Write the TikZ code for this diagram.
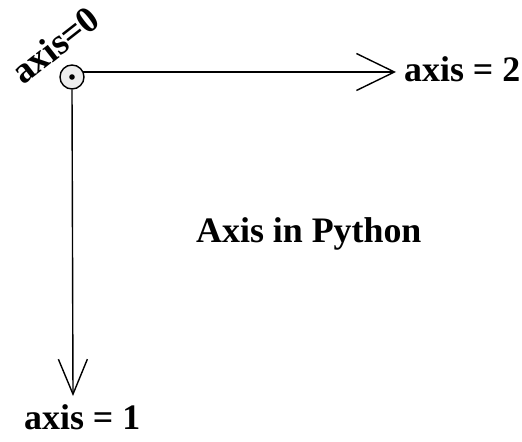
\documentclass[tikz,border=0pt]{standalone}
\usepackage{fontspec}
\setmainfont{Liberation Serif}
\usetikzlibrary{arrows.meta}
\begin{document}
\begin{tikzpicture}[x=1bp,y=-1bp,
  axisline/.style={line width=1.4bp},
  lbl/.style={inner sep=0pt,font=\fontsize{36}{40}\selectfont\bfseries},
  hhead/.style={-{Straight Barb[length=38bp,width=37bp,line width=1.4bp]}},
  vhead/.style={-{Straight Barb[length=35bp,width=29bp,line width=1.4bp]}}]
\useasboundingbox (0,0) rectangle (522,442);
\node[circle,draw,line width=1.4bp,fill=black!7,minimum size=24bp,inner sep=0pt] (o) at (72,77) {};
\fill (o.center) circle (2.8bp);
\coordinate (e2) at (396,72);
\coordinate (e1) at (73,396);
\coordinate (s2) at (83,72);
\draw[axisline,hhead] (s2) -- (e2);
\draw[axisline,vhead] (o.south) -- (e1);
\node[lbl,anchor=base west] (t2) at (404,82) {axis = 2};
\node[lbl,anchor=base west] (t1) at (24,429) {axis = 1};
\node[lbl,anchor=base west] (tt) at (196,243) {Axis in Python};
\node[lbl,rotate=38,font=\fontsize{37}{40}\selectfont\bfseries] (t0) at (55,45) {axis=0};
\end{tikzpicture}
\end{document}
